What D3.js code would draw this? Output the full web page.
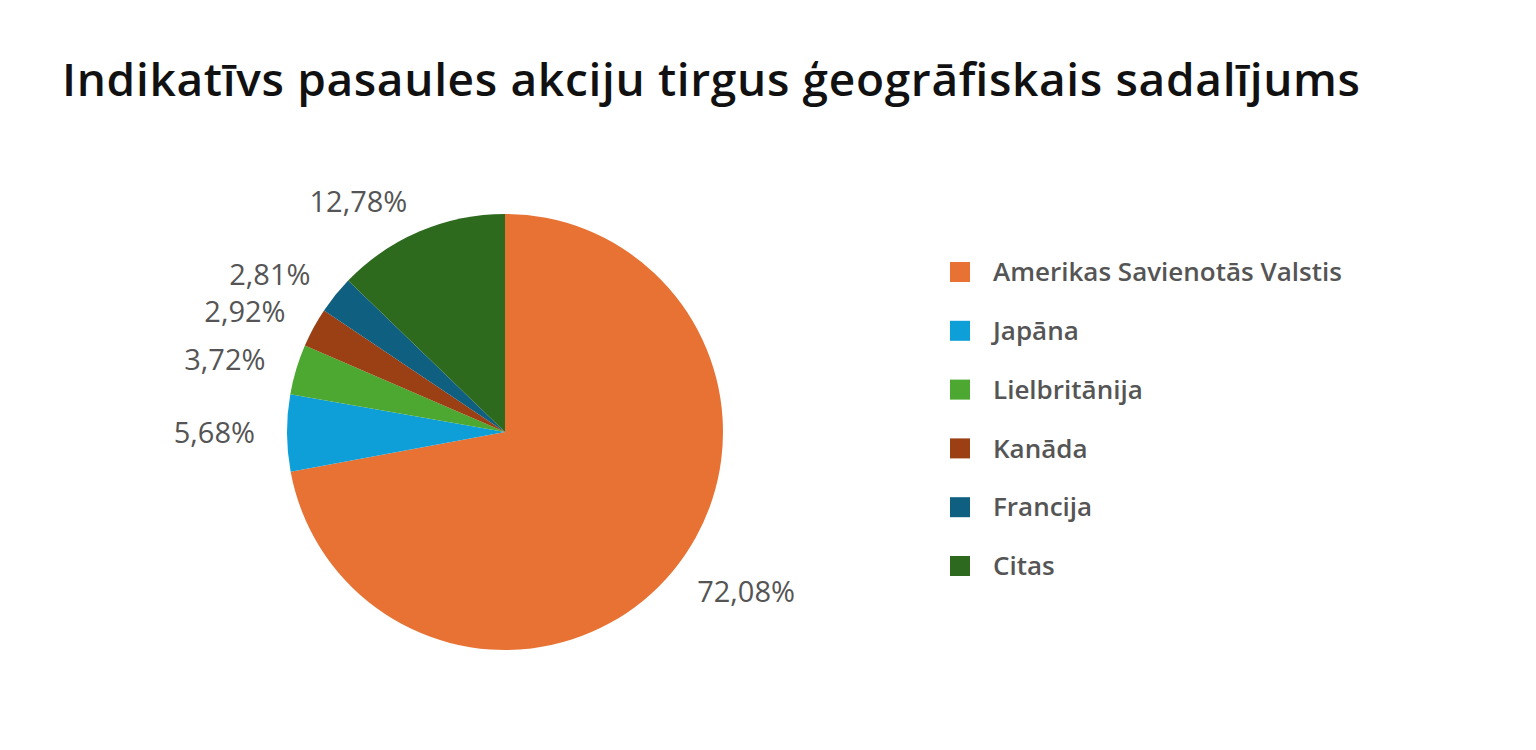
<!DOCTYPE html>
<html><head><meta charset="utf-8">
<script src="https://cdn.jsdelivr.net/npm/d3@7"></script>
<style>body{margin:0;background:#fff;font-family:"Open Sans",Lato,sans-serif}</style>
</head><body><svg id="c" width="1536" height="750"></svg>
<script>
const categories=["Amerikas Savienotās Valstis","Japāna","Lielbritānija","Kanāda","Francija","Citas"];
const values=[72.08,5.68,3.72,2.92,2.81,12.78];
const labels=["72,08%","5,68%","3,72%","2,92%","2,81%","12,78%"];
const colors=["#E87234","#0E9FD8","#4DA832","#9B3F14","#0E5F80","#2E6A1E"];
const svg=d3.select("#c");
svg.append("text").attr("x",62).attr("y",96).attr("font-size",46).attr("font-weight",600).attr("fill","#111").attr("textLength",1298).text("Indikatīvs pasaules akciju tirgus ģeogrāfiskais sadalījums");
const g=svg.append("g").attr("transform","translate(505,432)");
const pie=d3.pie().sort(null).value(d=>d)(values);
const arc=d3.arc().innerRadius(0).outerRadius(218);
const la=d3.arc().innerRadius(250).outerRadius(250);
g.selectAll("path").data(pie).join("path").attr("d",arc).attr("fill",(d,i)=>colors[i]);
g.selectAll("text").data(pie).join("text").attr("transform",d=>`translate(${la.centroid(d)})`)
 .attr("text-anchor",d=>(d.startAngle+d.endAngle)/2>Math.PI?"end":"start").attr("dy","0.35em").attr("font-size",29).attr("fill","#555").text((d,i)=>labels[i]);
const y=d3.scalePoint().domain(categories).range([272,566]);
const lg=svg.append("g");
lg.selectAll("rect").data(categories).join("rect").attr("x",950).attr("y",d=>y(d)-10).attr("width",20).attr("height",20).attr("fill",(d,i)=>colors[i]);
lg.selectAll("text").data(categories).join("text").attr("x",993).attr("y",d=>y(d)).attr("dy","0.35em").attr("font-size",26).attr("font-weight",600).attr("fill","#555").text(d=>d);
</script></body></html>
